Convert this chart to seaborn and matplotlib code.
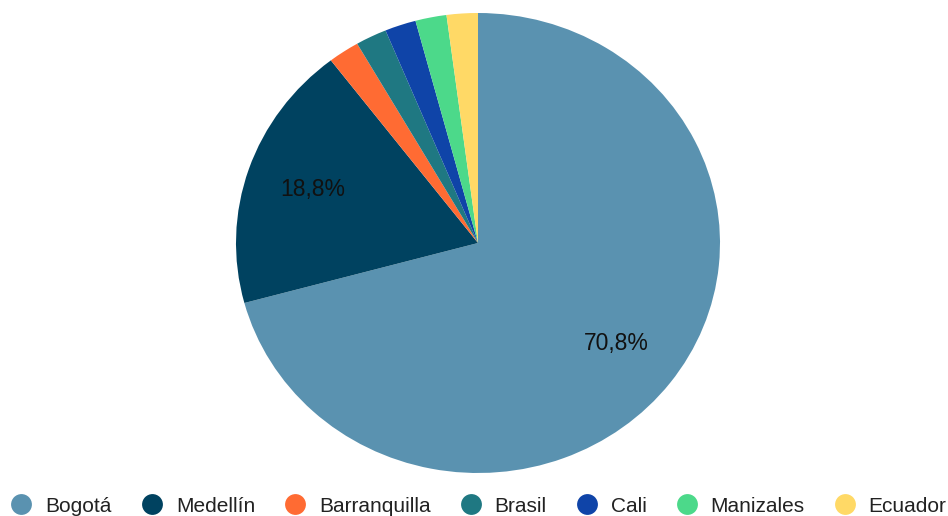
import matplotlib
matplotlib.use("Agg")
import matplotlib.pyplot as plt
from matplotlib.lines import Line2D
import seaborn as sns

# Share of records by city / country
cities = ["Bogotá", "Medellín", "Barranquilla", "Brasil", "Cali", "Manizales", "Ecuador"]
shares = [70.8, 18.8, 2.08, 2.08, 2.08, 2.08, 2.08]
colors = ["#5A92B0", "#004260", "#FF6B33", "#1F7882", "#0F44A8", "#4CD98A", "#FFD966"]

sns.set_theme(style="white")
plt.rcParams["font.family"] = ["Liberation Sans", "DejaVu Sans"]
palette = sns.color_palette(colors)

W, H = 948, 516
fig = plt.figure(figsize=(W / 100, H / 100), dpi=100)
# pie box: x 236..720 px, y 13..473 px (from top)
ax = fig.add_axes([236 / W, (H - 473) / H, 484 / W, 460 / H])


def fmt(pct):
    if pct < 5:
        return ""
    return f"{pct:.1f}%".replace(".", ",")


wedges, texts, autotexts = ax.pie(
    shares,
    colors=palette,
    startangle=90,
    counterclock=False,
    autopct=fmt,
    pctdistance=0.72,
    wedgeprops=dict(linewidth=0),
    textprops=dict(fontsize=16.5, color="#111111"),
)
ax.set_aspect("auto")
ax.set_xlim(-1, 1)
ax.set_ylim(-1, 1)
ax.axis("off")

handles = [
    Line2D([0], [0], marker="o", linestyle="", markersize=15,
           markerfacecolor=c, markeredgewidth=0)
    for c in palette
]
fig.legend(
    handles, cities,
    loc="center", bbox_to_anchor=(0.505, 10 / H), ncol=len(cities),
    frameon=False, fontsize=15, handletextpad=0.65, columnspacing=1.42,
    handlelength=1.0, labelcolor="#222222",
    borderpad=0, borderaxespad=0,
)

fig.savefig("out.png", dpi=100)
